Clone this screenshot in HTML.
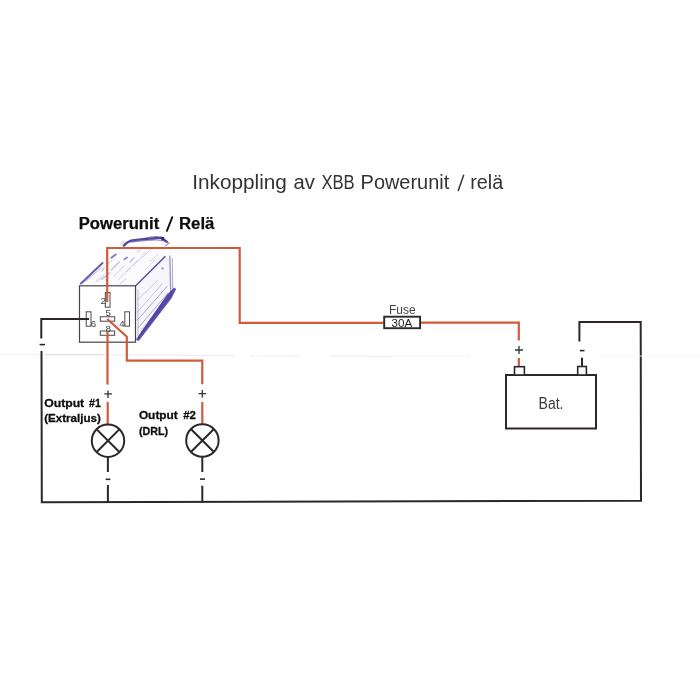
<!DOCTYPE html>
<html><head><meta charset="utf-8">
<style>
html,body{margin:0;padding:0;background:#fff;width:700px;height:700px;overflow:hidden}
svg{display:block;filter:blur(0.3px)}
text{font-family:"Liberation Sans",sans-serif}
</style></head>
<body>
<svg width="700" height="700" viewBox="0 0 700 700">
<rect width="700" height="700" fill="#fff"/>
<!-- faint scan line -->
<g stroke-width="1.2">
<line x1="0" y1="354.6" x2="40" y2="354.6" stroke="#f4f4f4"/>
<line x1="45" y1="354.6" x2="105" y2="354.6" stroke="#e0e0e0"/>
<line x1="110" y1="354.8" x2="235" y2="355.6" stroke="#f0f0f0"/>
<line x1="250" y1="356" x2="300" y2="356.2" stroke="#f0f0f0"/>
<line x1="330" y1="356.2" x2="390" y2="356.3" stroke="#ececec"/>
<line x1="390" y1="356.3" x2="470" y2="356.4" stroke="#f3f3f3"/>
<line x1="600" y1="356.5" x2="700" y2="356.5" stroke="#f7f7f7"/>
</g>

<!-- Title -->
<text x="192.2" y="189" font-size="19.5" fill="#333" textLength="94.7" lengthAdjust="spacingAndGlyphs">Inkoppling</text>
<text x="293.6" y="189" font-size="19.5" fill="#333" textLength="21.4" lengthAdjust="spacingAndGlyphs">av</text>
<text x="321.4" y="189" font-size="19.5" fill="#333" textLength="33.3" lengthAdjust="spacingAndGlyphs">XBB</text>
<text x="360.6" y="189" font-size="19.5" fill="#333" textLength="88.6" lengthAdjust="spacingAndGlyphs">Powerunit</text>
<line x1="458.3" y1="190.6" x2="463.6" y2="175.2" stroke="#333" stroke-width="1.5" stroke-linecap="round"/>
<text x="470.2" y="189" font-size="19.5" fill="#333" textLength="33.0" lengthAdjust="spacingAndGlyphs">relä</text>
<text x="78.7" y="228.8" font-size="16" font-weight="bold" fill="#0d0d0d" stroke="#0d0d0d" stroke-width="0.25" textLength="80.5" lengthAdjust="spacingAndGlyphs">Powerunit</text>
<line x1="166.9" y1="230.8" x2="172.3" y2="217.2" stroke="#111" stroke-width="1.9" stroke-linecap="round"/>
<text x="179.0" y="228.8" font-size="16" font-weight="bold" fill="#0d0d0d" stroke="#0d0d0d" stroke-width="0.25" textLength="35.4" lengthAdjust="spacingAndGlyphs">Relä</text>

<!-- Relay 3D sketch (blue pen) -->
<g stroke="#4a42a6" fill="none" stroke-linecap="round" stroke-linejoin="round">
  <!-- left top edge -->
  <path d="M81 283.5 L102.5 263" stroke-width="2" opacity="0.85"/>
  <path d="M86 281 L101 268" stroke-width="1" opacity="0.35"/>
  <!-- top back scribble -->
  <path d="M123.8 245.6 Q127 242 131 240.6 Q140 239.2 150 238.6 Q157 237.8 160 237.6 Q164 237.6 163.2 239.6 Q165 240.6 166.8 241.8" stroke-width="2.4" opacity="0.9" stroke="#443696"/>
  <path d="M131 242 Q142 240.6 152 240 Q158 239.6 162 240.6" stroke-width="1.3" opacity="0.55" stroke="#443696"/>
  <path d="M145 238.4 Q152 236.2 158 236.6" stroke-width="1.2" opacity="0.6" stroke="#443696"/>
  <circle cx="162.6" cy="238.6" r="1.7" fill="#2c2268" stroke="none"/>
  <path d="M165.7 245.6 L169.3 242.7" stroke-width="1.2" opacity="0.6"/>
  <path d="M121 243.5 L124 241" stroke-width="1" opacity="0.4"/>
  <!-- face tints -->
  <path d="M136 286 L165 257 L171 257 L173 291 L137 341 Z" fill="#4a42a6" fill-opacity="0.055" stroke="none"/>
  <path d="M81 284 L103 263 L124 245 L166 240 L165 257 L136 286 Z" fill="#4a42a6" fill-opacity="0.02" stroke="none"/>
  <!-- top face hatches -->
  <path d="M111.4 257.7 L115.7 254.5" stroke-width="1.8" opacity="0.7"/>
  <path d="M124.3 259.5 L127.1 257.4" stroke-width="1.6" opacity="0.65"/>
  <path d="M111.4 269.9 L119.3 262" stroke-width="1.2" opacity="0.35"/>
  <path d="M101.4 279.5 L110 272.7" stroke-width="1.1" opacity="0.35"/>
  <path d="M102 271 L104 268" stroke-width="1.2" opacity="0.4"/>
  <path d="M118 280 L130 268" stroke-width="1" opacity="0.25"/>
  <path d="M126 272 L138 260" stroke-width="1" opacity="0.22"/>
  <path d="M134 265 L146 252" stroke-width="1" opacity="0.22"/>
  <path d="M142 258 L152 248" stroke-width="1" opacity="0.22"/>
  <path d="M150 262 L158 254" stroke-width="1" opacity="0.22"/>
  <path d="M120 284 L126 279" stroke-width="1" opacity="0.3"/>
  <path d="M137 252 L141 249" stroke-width="1" opacity="0.3"/>
  <path d="M106 266 L112 260" stroke-width="1" opacity="0.3"/>
  <path d="M114 276 L124 266" stroke-width="1" opacity="0.25"/>
  <path d="M130 262 L134 258" stroke-width="1.2" opacity="0.35"/>
  <path d="M96 282 L104 275" stroke-width="1" opacity="0.3"/>
  <path d="M145 270 L156 259" stroke-width="0.9" opacity="0.2"/>
  <!-- right face top edge -->
  <path d="M136 285.5 L165 256.6" stroke-width="1.5" opacity="0.85"/>
  <path d="M139 283 L163 259" stroke-width="0.8" opacity="0.35"/>
  <!-- back verticals -->
  <path d="M169.8 256 L170.8 296" stroke-width="1.3" opacity="0.55"/>
  <path d="M172.3 258.5 L172.8 292" stroke-width="1" opacity="0.45"/>
  <circle cx="162.5" cy="268.4" r="1.2" fill="#4a42a6" stroke="none" opacity="0.5"/>
  <!-- bottom band -->
  <path d="M136.6 339.2 L167 295.2 L174.3 287.9 L175.7 289 L171 298.4 L138.6 340.6 Z" fill="#4539a0" stroke="#4539a0" stroke-width="0.8" opacity="0.9"/>
  <path d="M142 332 L166 299" stroke-width="1.6" opacity="0.5"/>
  <path d="M139 336 L171 293" stroke-width="1.2" opacity="0.45"/>
  <!-- inner lines -->
  <path d="M137.5 320 L167 286.5" stroke-width="1" opacity="0.45"/>
  <path d="M138 328 L168 293" stroke-width="1" opacity="0.4"/>
  <path d="M137.5 312 L162 284" stroke-width="0.9" opacity="0.3"/>
  <path d="M137.5 300 L158 280" stroke-width="0.9" opacity="0.28"/>
  <path d="M138 290 L138 336" stroke-width="1" opacity="0.3"/>
  <path d="M141 330 L166 300" stroke-width="0.8" opacity="0.25"/>
</g>

<!-- Relay front face -->
<rect x="79.5" y="285.8" width="56" height="56.4" fill="none" stroke="#444" stroke-width="1.2"/>
<g fill="#fff" stroke="#4a4a4a" stroke-width="1">
  <rect x="105.3" y="292.5" width="4.7" height="14.7"/>
  <rect x="100.3" y="316.8" width="14.4" height="4.4"/>
  <rect x="86.2" y="311.8" width="4.8" height="14.4"/>
  <rect x="124.8" y="311.8" width="4.7" height="14.4"/>
  <rect x="100.3" y="331" width="14.4" height="4.3"/>
</g>
<g font-size="9.8" fill="#444">
  <text x="100.6" y="304.2">2</text>
  <text x="105.4" y="316.2">5</text>
  <text x="90.8" y="327.2">6</text>
  <text x="119.2" y="327">4</text>
  <text x="105.4" y="331.6">8</text>
</g>

<!-- Red wires -->
<g stroke="#d25a3c" stroke-width="2.2" fill="none" stroke-linejoin="miter">
  <path d="M107.2 302 L107.2 248 L239.7 248 L239.7 322.8 L383.5 322.8"/>
  <path d="M420.5 322.6 L518.8 322.6 L518.8 340.6"/>
  <path d="M518.8 358 L518.8 367"/>
  <path d="M107.2 319 L126.8 336.8 L126.8 360.7 L202.3 360.7 L202.3 384.3"/>
  <path d="M202.3 402 L202.3 424"/>
  <path d="M107.5 332 L107.5 384.6"/>
  <path d="M107.7 402 L107.7 424"/>
</g>

<!-- Black wires -->
<g stroke="#2e2628" stroke-width="2" fill="none">
  <path d="M89 319.1 L41.3 319.1 L41.3 338.6"/>
  <path d="M41.5 351 L41.8 502.2 L641 500.7 L640.7 322 L579.4 322 L579.4 341.6"/>
  <path d="M582 357.7 L582 367"/>
  <path d="M107.9 457 L107.9 472"/>
  <path d="M107.9 485 L107.9 502"/>
  <path d="M202.3 457 L202.3 472"/>
  <path d="M202.3 485.7 L202.3 502"/>
</g>
<!-- minus signs -->
<g stroke="#2e2628" stroke-width="1.6">
  <line x1="39.6" y1="344.6" x2="45" y2="344.6"/>
  <line x1="105.7" y1="479.3" x2="110.4" y2="479.3"/>
  <line x1="200" y1="479.1" x2="205" y2="479.1"/>
  <line x1="579.8" y1="350.6" x2="584.5" y2="350.6"/>
</g>
<!-- plus signs -->
<g stroke="#333" stroke-width="1.3">
  <path d="M104.3 393.9 H112 M108 390.4 V397.9"/>
  <path d="M198.5 393.6 H206.2 M202.3 390 V397.4"/>
  <path d="M515 350 H523 M519 346 V354"/>
</g>

<!-- Lamps -->
<g stroke="#2e2628" stroke-width="2" fill="none">
  <circle cx="108" cy="440.7" r="16.2"/>
  <path d="M96.7 429.4 L119.3 452 M119.3 429.4 L96.7 452"/>
  <circle cx="202.4" cy="440.5" r="16.2"/>
  <path d="M191.1 429.2 L213.7 451.8 M213.7 429.2 L191.1 451.8"/>
</g>

<!-- Output labels -->
<g fill="#1a1a1a">
<text x="44.2" y="406.5" font-size="11.8" font-weight="bold" fill="#0d0d0d" stroke="#0d0d0d" stroke-width="0.3" textLength="40.0" lengthAdjust="spacingAndGlyphs">Output</text>
<text x="89.1" y="406.5" font-size="11.8" font-weight="bold" fill="#0d0d0d" stroke="#0d0d0d" stroke-width="0.3" textLength="11.8" lengthAdjust="spacingAndGlyphs">#1</text>
<text x="44.2" y="421.5" font-size="11.8" font-weight="bold" fill="#0d0d0d" stroke="#0d0d0d" stroke-width="0.3" textLength="56.7" lengthAdjust="spacingAndGlyphs">(Extraljus)</text>
<text x="138.9" y="419.4" font-size="11.8" font-weight="bold" fill="#0d0d0d" stroke="#0d0d0d" stroke-width="0.3" textLength="38.9" lengthAdjust="spacingAndGlyphs">Output</text>
<text x="183.2" y="419.4" font-size="11.8" font-weight="bold" fill="#0d0d0d" stroke="#0d0d0d" stroke-width="0.3" textLength="12.7" lengthAdjust="spacingAndGlyphs">#2</text>
<text x="138.9" y="434.7" font-size="11.8" font-weight="bold" fill="#0d0d0d" stroke="#0d0d0d" stroke-width="0.3" textLength="29.1" lengthAdjust="spacingAndGlyphs">(DRL)</text>
</g>

<!-- Fuse -->
<rect x="384.2" y="316.7" width="35.9" height="11.5" fill="#fff" stroke="#2a2a2a" stroke-width="1.9"/>
<text x="389.0" y="313.8" font-size="12" fill="#444" textLength="26.7" lengthAdjust="spacingAndGlyphs">Fuse</text>
<text x="391.5" y="326.7" font-size="11.7" fill="#222" textLength="20.6" lengthAdjust="spacingAndGlyphs">30A</text>

<!-- Battery -->
<rect x="506" y="375" width="90" height="53.5" fill="none" stroke="#2e2628" stroke-width="2"/>
<rect x="514.5" y="366.7" width="9.9" height="8.3" fill="#fff" stroke="#2e2628" stroke-width="1.6"/>
<rect x="577.7" y="366.5" width="8.7" height="8.5" fill="#fff" stroke="#2e2628" stroke-width="1.6"/>
<text x="538.6" y="408.6" font-size="16" fill="#3a3a3a" textLength="24.9" lengthAdjust="spacingAndGlyphs">Bat.</text>
<rect x="639" y="355.6" width="4" height="1" fill="#fff" opacity="0.8"/>
</svg>
</body></html>
